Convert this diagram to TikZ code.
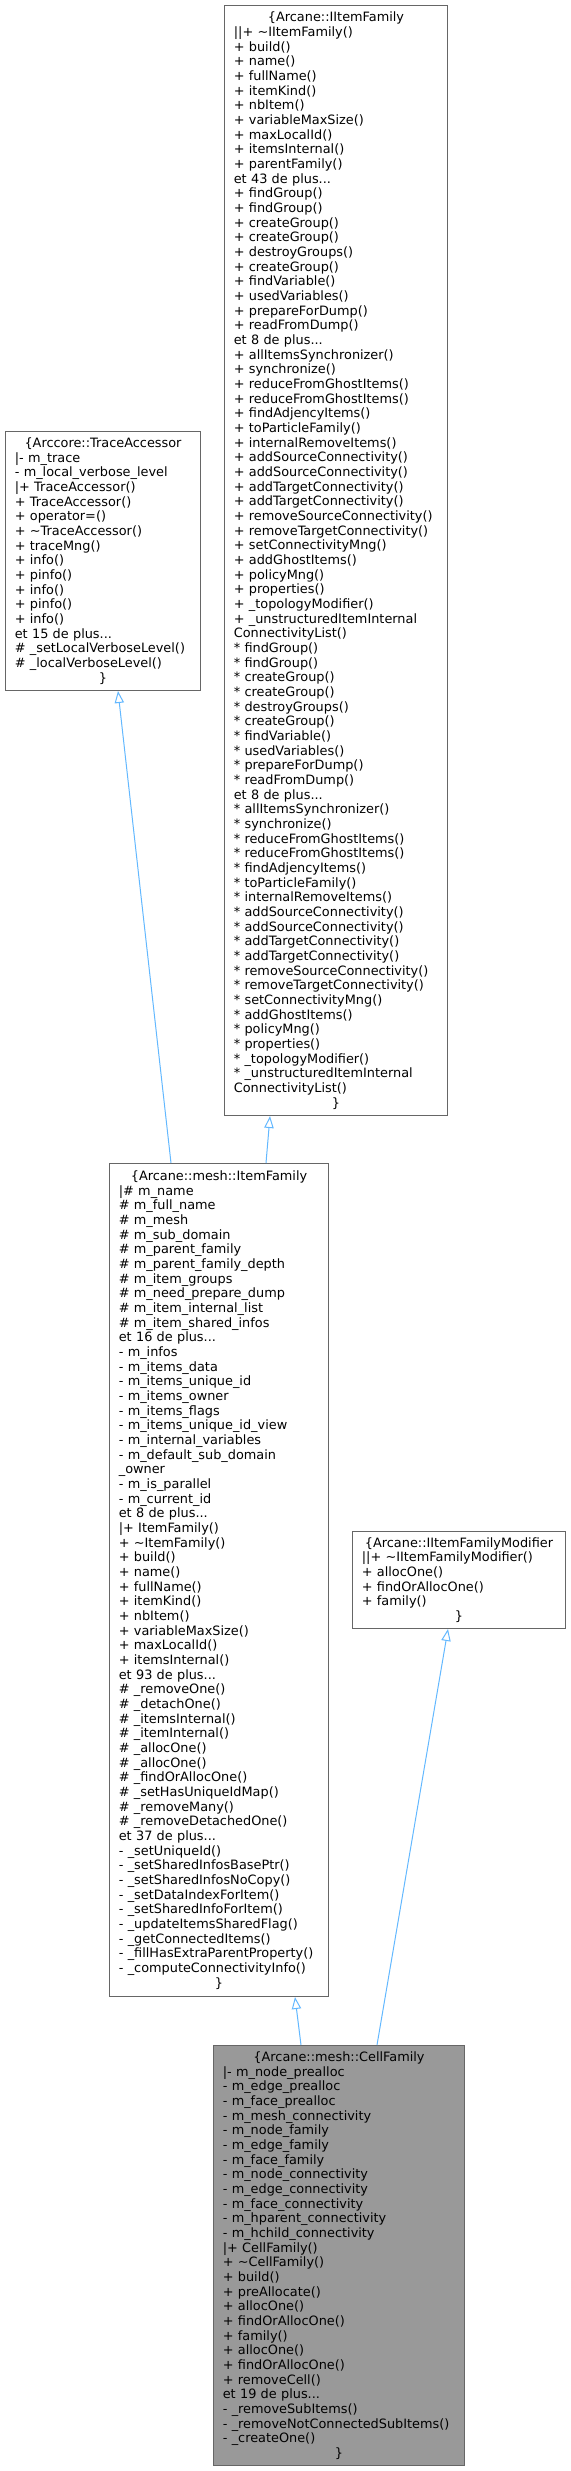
\documentclass[tikz,border=0pt]{standalone}
\usepackage{fontspec}
\setmainfont{DejaVu Sans}
\usetikzlibrary{arrows.meta}
\definecolor{boxgray}{HTML}{666666}
\definecolor{curfill}{HTML}{999999}
\definecolor{edgeblue}{HTML}{63B8FF}
\newcommand{\ClsCtr}[1]{\makebox[\linewidth][c]{#1}}
\newcommand{\Tld}{\textasciitilde}
\begin{document}
\begin{tikzpicture}[x=0.75pt,y=-0.75pt,
  cls/.style={draw=boxgray, line width=0.75pt, fill=white, anchor=north west,
    inner xsep=7pt, inner ysep=0pt, align=left,
    font=\fontsize{9.65}{11}\selectfont},
  inh/.style={draw=edgeblue, line width=0.75pt,
    -{Triangle[open,length=9pt,width=7pt,fill=white]}}]
\useasboundingbox (0,0) rectangle (571,2471);

\node[cls, text width=153.25pt, minimum height=832.5pt] (iif) at (224,5) {%
\ClsCtr{\{Arcane::IItemFamily}\\
||+ \Tld IItemFamily()\\
+ build()\\
+ name()\\
+ fullName()\\
+ itemKind()\\
+ nbItem()\\
+ variableMaxSize()\\
+ maxLocalId()\\
+ itemsInternal()\\
+ parentFamily()\\
et 43 de plus...\\
+ findGroup()\\
+ findGroup()\\
+ createGroup()\\
+ createGroup()\\
+ destroyGroups()\\
+ createGroup()\\
+ findVariable()\\
+ usedVariables()\\
+ prepareForDump()\\
+ readFromDump()\\
et 8 de plus...\\
+ allItemsSynchronizer()\\
+ synchronize()\\
+ reduceFromGhostItems()\\
+ reduceFromGhostItems()\\
+ findAdjencyItems()\\
+ toParticleFamily()\\
+ internalRemoveItems()\\
+ addSourceConnectivity()\\
+ addSourceConnectivity()\\
+ addTargetConnectivity()\\
+ addTargetConnectivity()\\
+ removeSourceConnectivity()\\
+ removeTargetConnectivity()\\
+ setConnectivityMng()\\
+ addGhostItems()\\
+ policyMng()\\
+ properties()\\
+ \_topologyModifier()\\
+ \_unstructuredItemInternal\\
ConnectivityList()\\
{}* findGroup()\\
{}* findGroup()\\
{}* createGroup()\\
{}* createGroup()\\
{}* destroyGroups()\\
{}* createGroup()\\
{}* findVariable()\\
{}* usedVariables()\\
{}* prepareForDump()\\
{}* readFromDump()\\
et 8 de plus...\\
{}* allItemsSynchronizer()\\
{}* synchronize()\\
{}* reduceFromGhostItems()\\
{}* reduceFromGhostItems()\\
{}* findAdjencyItems()\\
{}* toParticleFamily()\\
{}* internalRemoveItems()\\
{}* addSourceConnectivity()\\
{}* addSourceConnectivity()\\
{}* addTargetConnectivity()\\
{}* addTargetConnectivity()\\
{}* removeSourceConnectivity()\\
{}* removeTargetConnectivity()\\
{}* setConnectivityMng()\\
{}* addGhostItems()\\
{}* policyMng()\\
{}* properties()\\
{}* \_topologyModifier()\\
{}* \_unstructuredItemInternal\\
ConnectivityList()\\
\ClsCtr{\}}};

\node[cls, text width=132.25pt, minimum height=194.25pt] (tra) at (5,431) {%
\ClsCtr{\{Arccore::TraceAccessor}\\
|- m\_trace\\
- m\_local\_verbose\_level\\
|+ TraceAccessor()\\
+ TraceAccessor()\\
+ operator=()\\
+ \Tld TraceAccessor()\\
+ traceMng()\\
+ info()\\
+ pinfo()\\
+ info()\\
+ pinfo()\\
+ info()\\
et 15 de plus...\\
\# \_setLocalVerboseLevel()\\
\# \_localVerboseLevel()\\
\ClsCtr{\}}};

\node[cls, text width=150.25pt, minimum height=624.75pt] (itf) at (109,1163) {%
\ClsCtr{\{Arcane::mesh::ItemFamily}\\
|\# m\_name\\
\# m\_full\_name\\
\# m\_mesh\\
\# m\_sub\_domain\\
\# m\_parent\_family\\
\# m\_parent\_family\_depth\\
\# m\_item\_groups\\
\# m\_need\_prepare\_dump\\
\# m\_item\_internal\_list\\
\# m\_item\_shared\_infos\\
et 16 de plus...\\
- m\_infos\\
- m\_items\_data\\
- m\_items\_unique\_id\\
- m\_items\_owner\\
- m\_items\_flags\\
- m\_items\_unique\_id\_view\\
- m\_internal\_variables\\
- m\_default\_sub\_domain\\
\_owner\\
- m\_is\_parallel\\
- m\_current\_id\\
et 8 de plus...\\
|+ ItemFamily()\\
+ \Tld ItemFamily()\\
+ build()\\
+ name()\\
+ fullName()\\
+ itemKind()\\
+ nbItem()\\
+ variableMaxSize()\\
+ maxLocalId()\\
+ itemsInternal()\\
et 93 de plus...\\
\# \_removeOne()\\
\# \_detachOne()\\
\# \_itemsInternal()\\
\# \_itemInternal()\\
\# \_allocOne()\\
\# \_allocOne()\\
\# \_findOrAllocOne()\\
\# \_setHasUniqueIdMap()\\
\# \_removeMany()\\
\# \_removeDetachedOne()\\
et 37 de plus...\\
- \_setUniqueId()\\
- \_setSharedInfosBasePtr()\\
- \_setSharedInfosNoCopy()\\
- \_setDataIndexForItem()\\
- \_setSharedInfoForItem()\\
- \_updateItemsSharedFlag()\\
- \_getConnectedItems()\\
- \_fillHasExtraParentProperty()\\
- \_computeConnectivityInfo()\\
\ClsCtr{\}}};

\node[cls, text width=145.75pt, minimum height=72.75pt] (mod) at (352,1531) {%
\ClsCtr{\{Arcane::IItemFamilyModifier}\\
||+ \Tld IItemFamilyModifier()\\
+ allocOne()\\
+ findOrAllocOne()\\
+ family()\\
\ClsCtr{\}}};

\node[cls, fill=curfill, text width=174.25pt, minimum height=315pt] (cell) at (213,2045) {%
\ClsCtr{\{Arcane::mesh::CellFamily}\\
|- m\_node\_prealloc\\
- m\_edge\_prealloc\\
- m\_face\_prealloc\\
- m\_mesh\_connectivity\\
- m\_node\_family\\
- m\_edge\_family\\
- m\_face\_family\\
- m\_node\_connectivity\\
- m\_edge\_connectivity\\
- m\_face\_connectivity\\
- m\_hparent\_connectivity\\
- m\_hchild\_connectivity\\
|+ CellFamily()\\
+ \Tld CellFamily()\\
+ build()\\
+ preAllocate()\\
+ allocOne()\\
+ findOrAllocOne()\\
+ family()\\
+ allocOne()\\
+ findOrAllocOne()\\
+ removeCell()\\
et 19 de plus...\\
- \_removeSubItems()\\
- \_removeNotConnectedSubItems()\\
- \_createOne()\\
\ClsCtr{\}}};

\draw[inh] ([xshift=66pt]cell.north west) -- ([xshift=139.5pt]itf.south west);
\draw[inh] ([xshift=123pt]cell.north west) -- ([xshift=72pt]mod.south west);
\draw[inh] ([xshift=117.75pt]itf.north west) -- ([xshift=34.5pt]iif.south west);
\draw[inh] ([xshift=46.5pt]itf.north west) -- ([xshift=84.75pt]tra.south west);
\end{tikzpicture}
\end{document}
